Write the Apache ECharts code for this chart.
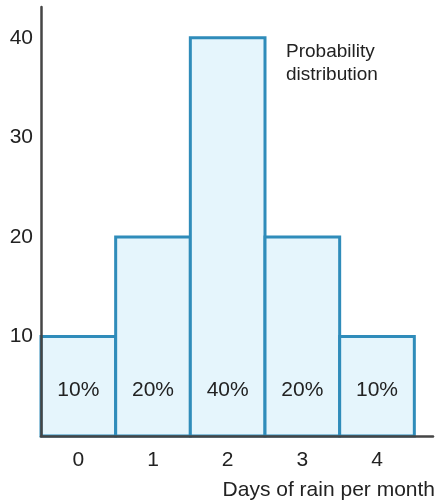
<!DOCTYPE html>
<html>
<head>
<meta charset="utf-8">
<script src="https://cdn.jsdelivr.net/npm/echarts@6/dist/echarts.min.js"></script>
<style>
  html, body { margin: 0; padding: 0; background: #fff; }
  #chart { width: 436px; height: 503px; }
</style>
</head>
<body>
<div id="chart"></div>
<script>
// Days of rain per month and their probability (in percent)
const days = [0, 1, 2, 3, 4];
const probability = [10, 20, 40, 20, 10];
const yTicks = [10, 20, 30, 40];

const FONT = '"Liberation Sans", Arial, sans-serif';
const STROKE = '#2f8cba';
const FILL = '#e5f5fc';
const AXIS = '#454545';
const TEXT = '#222';

const chart = echarts.init(document.getElementById('chart'), null, { renderer: 'canvas' });

chart.setOption({
  animation: false,
  grid: { left: 41, right: 3, top: 7, bottom: 67 },
  xAxis: {
    type: 'value',
    min: -0.5,
    max: 4.75,
    interval: 0.25,
    z: 5,
    splitLine: { show: false },
    axisTick: { show: false },
    axisLine: { show: true, onZero: false, lineStyle: { color: AXIS, width: 2.5 } },
    axisLabel: {
      margin: 14,
      fontFamily: FONT,
      fontSize: 21,
      color: TEXT,
      showMinLabel: false,
      showMaxLabel: false,
      formatter: function (v) {
        return days.indexOf(v) >= 0 ? String(v) : '';
      }
    }
  },
  yAxis: {
    type: 'value',
    min: 0,
    max: 43.1,
    interval: 10,
    z: 5,
    splitLine: { show: false },
    axisTick: { show: false },
    axisLine: { show: true, onZero: false, lineStyle: { color: AXIS, width: 2.5 } },
    axisLabel: {
      margin: 8,
      padding: [7, 0, 0, 0],
      fontFamily: FONT,
      fontSize: 21,
      color: TEXT,
      showMaxLabel: false,
      formatter: function (v) {
        return yTicks.indexOf(v) >= 0 ? String(v) : '';
      }
    }
  },
  series: [{
    type: 'custom',
    z: 2,
    data: days.map(function (d, i) { return [d, probability[i]]; }),
    renderItem: function (params, api) {
      const x = api.value(0);
      const v = api.value(1);
      const tl = api.coord([x - 0.5, v]);
      const br = api.coord([x + 0.5, 0]);
      const mid = api.coord([x, 4.6]);
      return {
        type: 'group',
        children: [
          {
            type: 'rect',
            shape: { x: tl[0], y: tl[1], width: br[0] - tl[0], height: br[1] - tl[1] },
            style: { fill: FILL, stroke: STROKE, lineWidth: 3 }
          },
          {
            type: 'text',
            x: mid[0],
            y: mid[1],
            style: {
              text: v + '%',
              fill: TEXT,
              font: '21px ' + FONT,
              align: 'center',
              verticalAlign: 'middle'
            }
          }
        ]
      };
    }
  }],
  graphic: [
    {
      type: 'text',
      x: 286,
      y: 52,
      style: { text: 'Probability', fill: TEXT, font: '19px ' + FONT, verticalAlign: 'middle' }
    },
    {
      type: 'text',
      x: 286,
      y: 75,
      style: { text: 'distribution', fill: TEXT, font: '19px ' + FONT, verticalAlign: 'middle' }
    },
    {
      type: 'text',
      x: 435,
      y: 490,
      style: {
        text: 'Days of rain per month',
        fill: TEXT,
        font: '21px ' + FONT,
        align: 'right',
        verticalAlign: 'middle'
      }
    }
  ]
});
</script>
</body>
</html>
